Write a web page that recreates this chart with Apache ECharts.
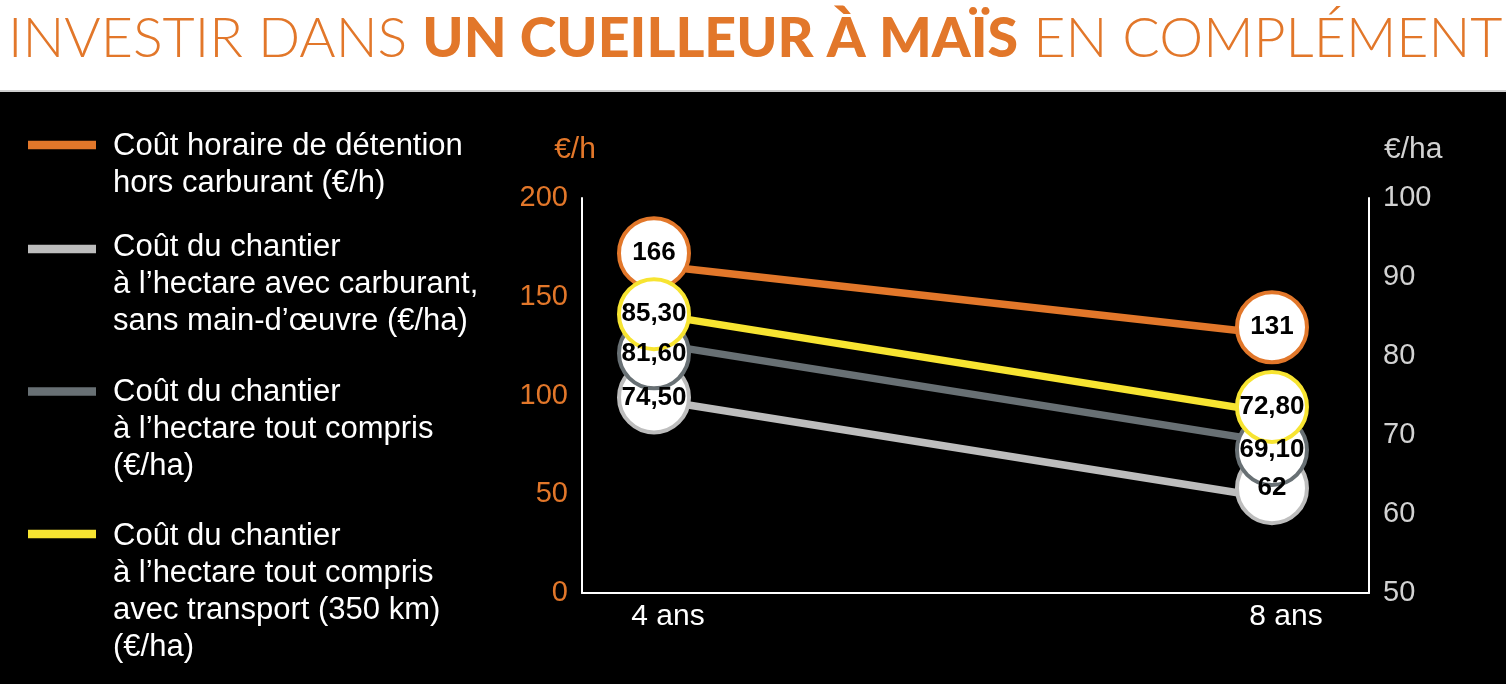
<!DOCTYPE html>
<html><head><meta charset="utf-8">
<script src="https://cdn.jsdelivr.net/npm/echarts@6/dist/echarts.min.js"></script>
<style>html,body{margin:0;padding:0;background:#000}#c{width:1506px;height:684px}</style>
</head><body><div id="c"></div>
<script>
// ---- data ----
const titleParts = ['INVESTIR DANS ', 'UN CUEILLEUR À MAÏS', ' EN COMPLÉMENT'];
const categories = ['4 ans', '8 ans'];
const ages = [4, 8];
const seriesNames = [
  'Coût horaire de détention\nhors carburant (€/h)',
  'Coût du chantier\nà l’hectare avec carburant,\nsans main-d’œuvre (€/ha)',
  'Coût du chantier\nà l’hectare tout compris\n(€/ha)',
  'Coût du chantier\nà l’hectare tout compris\navec transport (350 km)\n(€/ha)'
];
const coutHoraire = [166, 131];
const chantierCarburant = [74.5, 62];
const chantierToutCompris = [81.6, 69.1];
const chantierTransport = [85.3, 72.8];
const leftTickLabels = [0, 50, 100, 150, 200];
const rightTickLabels = [50, 60, 70, 80, 90, 100];
const leftUnit = '€/h';
const rightUnit = '€/ha';

// ---- styles ----
const ORANGE = '#E2772A', LGREY = '#BDBDBD', DGREY = '#687074', YELLOW = '#F7E431';
const colors = [ORANGE, LGREY, DGREY, YELLOW];
const FONT = '"Liberation Sans", Arial, sans-serif';
const valuesList = [coutHoraire, chantierCarburant, chantierToutCompris, chantierTransport];
const axisIdx = [0, 1, 1, 1];
const nudges = [[-12, -7], [-2, -10], [10, 8], [0, -6]];
const fmt = v => Number.isInteger(v) ? String(v) : v.toFixed(2).replace('.', ',');

const series = valuesList.map((vals, s) => ({
  type: 'line',
  name: seriesNames[s],
  yAxisIndex: axisIdx[s],
  data: vals.map((v, i) => ({
    value: [ages[i], v],
    symbolOffset: [0, nudges[s][i]]
  })),
  lineStyle: { color: colors[s], width: 7.5 },
  symbol: 'circle',
  symbolSize: 70,
  itemStyle: { color: '#fff', borderColor: colors[s], borderWidth: 4 },
  label: {
    show: true, position: 'inside', color: '#000', fontWeight: 'bold',
    fontSize: 26, fontFamily: FONT,
    formatter: p => fmt(p.value[1])
  },
  emphasis: { disabled: true },
  animation: false
}));

// legend as graphics
const legendFirstLine = [146.5, 247.5, 392.5, 536];
const swatchY = [145, 249, 391.5, 534];
const graphics = [
  { type: 'rect', left: 0, top: 0, shape: { width: 1506, height: 91 }, style: { fill: '#fff' }, z: -10 },
  { type: 'rect', left: 0, top: 90, shape: { width: 1506, height: 2 }, style: { fill: '#cfcfcf' }, z: -10 }
];
seriesNames.forEach((n, i) => {
  graphics.push({ type: 'rect', x: 28, y: swatchY[i] - 4.25, shape: { width: 68, height: 8.5 }, style: { fill: colors[i] } });
  graphics.push({ type: 'text', x: 113, y: legendFirstLine[i] - 18.5,
    style: { text: n, fill: '#fff', font: '31px ' + FONT, lineHeight: 37, verticalAlign: 'top' } });
});

const chart = echarts.init(document.getElementById('c'), null, { renderer: 'canvas' });
chart.setOption({
  backgroundColor: '#000',
  animation: false,
  title: {
    left: 3, top: 6,
    text: '{a|' + titleParts[0] + '}{b|' + titleParts[1] + '}{a|' + titleParts[2] + '}',
    textStyle: {
      rich: {
        a: { color: ORANGE, fontSize: 55.5, fontWeight: 300, fontFamily: 'Lato, sans-serif' },
        b: { color: ORANGE, fontSize: 55.5, fontWeight: 900, fontFamily: 'Lato, sans-serif' }
      }
    }
  },
  graphic: graphics,
  grid: { left: 582, right: 137, top: 198, bottom: 91 },
  xAxis: {
    type: 'value', min: 3.534, max: 8.628,
    axisLine: { show: true, lineStyle: { color: '#fff', width: 2 } },
    axisTick: { show: false },
    splitLine: { show: false },
    axisLabel: {
      customValues: ages,
      formatter: v => categories[ages.indexOf(v)],
      color: '#fff', fontSize: 30, fontFamily: FONT, margin: 9, padding: [0, 0, 0, 28]
    }
  },
  yAxis: [
    {
      type: 'value', position: 'left',
      min: leftTickLabels[0], max: leftTickLabels[leftTickLabels.length - 1],
      interval: leftTickLabels[1] - leftTickLabels[0],
      name: leftUnit, nameLocation: 'end', nameGap: 33,
      nameTextStyle: { color: ORANGE, fontSize: 30, fontFamily: FONT, align: 'center', padding: [0, 0, 0, -14] },
      axisLine: { show: true, lineStyle: { color: '#fff', width: 2 } },
      axisTick: { show: false }, splitLine: { show: false },
      axisLabel: { color: ORANGE, fontSize: 29, fontFamily: FONT, margin: 14 }
    },
    {
      type: 'value', position: 'right',
      min: rightTickLabels[0], max: rightTickLabels[rightTickLabels.length - 1],
      interval: rightTickLabels[1] - rightTickLabels[0],
      name: rightUnit, nameLocation: 'end', nameGap: 33,
      nameTextStyle: { color: '#D2D2D2', fontSize: 30, fontFamily: FONT, align: 'left', padding: [0, 0, 0, 15] },
      axisLine: { show: true, lineStyle: { color: '#fff', width: 2 } },
      axisTick: { show: false }, splitLine: { show: false },
      axisLabel: { color: '#D2D2D2', fontSize: 29, fontFamily: FONT, margin: 14 }
    }
  ],
  series: series
});
</script>
</body></html>
